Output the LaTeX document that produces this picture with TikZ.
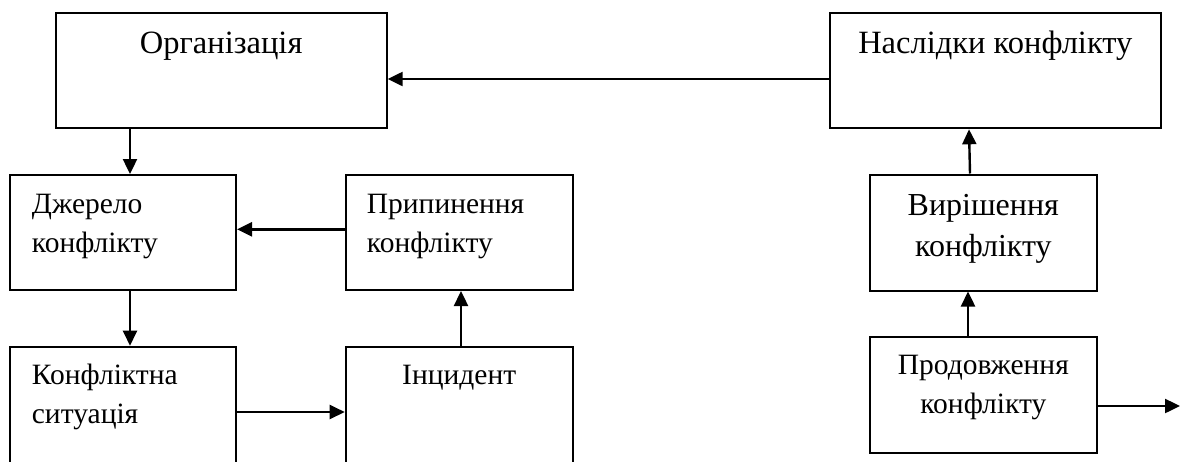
\documentclass[tikz,border=0pt]{standalone}
\usepackage{fontspec}
\setmainfont{Liberation Serif}
\usetikzlibrary{arrows.meta}
\begin{document}
\begin{tikzpicture}[x=1pt,y=-1pt,
  box/.style={draw, line width=2pt, inner sep=0pt},
  arr/.style={line width=2.4pt, -{Triangle[length=15pt,width=14pt]}},
  lbl/.style={font=\fontsize{29.5}{39}\selectfont, inner sep=0pt, anchor=base},
  big/.style={font=\fontsize{32.5}{39}\selectfont},
  lbll/.style={lbl, anchor=base west, align=left},
  lblc/.style={lbl, align=center},
]
\useasboundingbox (0,0) rectangle (1182,461);

% blocks
\node[box, minimum width=331pt, minimum height=115.6pt] (org) at (221.2,70.5) {};
\node[box, minimum width=330.7pt, minimum height=115.6pt] (nas) at (995.3,70.5) {};
\node[box, minimum width=226pt, minimum height=115pt] (dzh) at (123,232.5) {};
\node[box, minimum width=227pt, minimum height=115pt] (prp) at (459.2,232.5) {};
\node[box, minimum width=226.7pt, minimum height=116pt] (vyr) at (983.3,232.5) {};
\node[box, minimum width=226pt, minimum height=124pt] (kon) at (123,408.7) {};
\node[box, minimum width=227pt, minimum height=124pt] (inc) at (459.2,408.7) {};
\node[box, minimum width=226.7pt, minimum height=116.6pt] (prd) at (983.3,395) {};

% labels (multi-line labels are placed by the baseline of their last line)
\node[lbl, big] (torg) at (221.2,53) {Організація};
\node[lbl, big] (tnas) at (995.3,53) {Наслідки конфлікту};
\node[lbll] (tdzh) at (31.7,252) {Джерело\\конфлікту};
\node[lbll] (tprp) at (366.7,252) {Припинення\\конфлікту};
\node[lblc, font=\fontsize{32}{41.5}\selectfont] (tvyr) at (983.3,256.5) {Вирішення\\конфлікту};
\node[lbll] (tkon) at (31.7,423) {Конфліктна\\ситуація};
\node[lbl] (tinc) at (459.2,384) {Інцидент};
\node[lblc] (tprd) at (983.3,413) {Продовження\\конфлікту};

% connectors
\coordinate (out) at (1180,406);
\draw[arr] ([yshift=-8.5pt]nas.west) -- ([yshift=-8.5pt]nas.west -| org.east);
\draw[arr] ([xshift=-91.2pt]org.south) -- ([xshift=7pt]dzh.north);
\draw[arr] ([xshift=7pt]dzh.south) -- ([xshift=7pt]kon.north);
\draw[arr] ([yshift=-3.3pt]kon.east) -- ([yshift=-3.3pt]kon.east -| inc.west);
\draw[arr] ([xshift=1.8pt]inc.north) -- ([xshift=1.8pt]prp.south);
\draw[arr] ([yshift=3.2pt]prp.west) -- ([yshift=3.2pt]prp.west -| dzh.east);
\draw[arr] ([xshift=-15.3pt]prd.north) -- ([xshift=-15.3pt]vyr.south);
\draw[arr] ([xshift=-13.3pt]vyr.north) -- ([xshift=-26.3pt]nas.south);
\draw[arr] (prd.east |- out) -- (out);
\end{tikzpicture}
\end{document}
